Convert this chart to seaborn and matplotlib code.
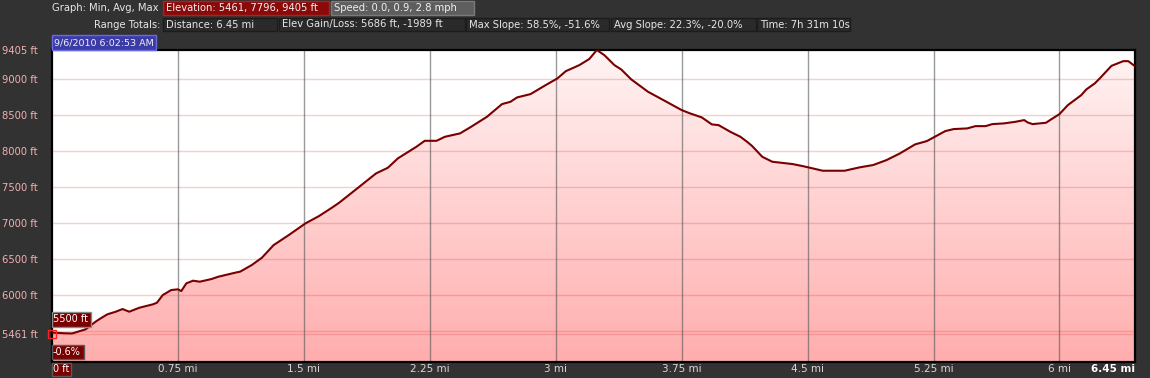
import numpy as np
import pandas as pd
import matplotlib
matplotlib.use("Agg")
import matplotlib.pyplot as plt
import seaborn as sns
from matplotlib.patches import Rectangle
from matplotlib.colors import LinearSegmentedColormap

# ---------------- data ----------------
distance_mi = [0.00, 0.08, 0.12, 0.20, 0.26, 0.29, 0.33, 0.38, 0.42, 0.46, 0.52, 0.60, 0.625,
               0.66, 0.71, 0.75, 0.77, 0.80, 0.84, 0.88, 0.95, 0.99, 1.10, 1.12, 1.19, 1.25,
               1.32, 1.41, 1.51, 1.59, 1.67, 1.71, 1.83, 1.93, 2.00, 2.06, 2.17, 2.22, 2.29,
               2.34, 2.43, 2.49, 2.59, 2.68, 2.73, 2.77, 2.85, 2.94, 3.01, 3.06, 3.14, 3.20,
               3.245, 3.29, 3.35, 3.39, 3.45, 3.55, 3.66, 3.75, 3.80, 3.87, 3.93, 3.97, 4.04,
               4.10, 4.14, 4.17, 4.23, 4.29, 4.41, 4.47, 4.53, 4.59, 4.72, 4.81, 4.89, 4.97,
               5.05, 5.14, 5.21, 5.32, 5.37, 5.45, 5.50, 5.56, 5.60, 5.67, 5.74, 5.79, 5.81,
               5.84, 5.92, 5.95, 6.00, 6.05, 6.13, 6.16, 6.21, 6.24, 6.31, 6.38, 6.41, 6.45]
elevation_ft = [5478, 5468, 5466, 5523, 5630, 5676, 5732, 5768, 5805, 5768, 5823, 5870, 5893,
                6000, 6069, 6079, 6055, 6162, 6199, 6185, 6222, 6254, 6315, 6324, 6417, 6518,
                6694, 6833, 6996, 7097, 7218, 7282, 7504, 7690, 7768, 7899, 8060, 8143, 8143,
                8199, 8246, 8329, 8476, 8653, 8685, 8746, 8792, 8917, 9010, 9111, 9194, 9280,
                9405, 9333, 9194, 9135, 8996, 8824, 8685, 8570, 8524, 8468, 8371, 8361, 8268,
                8199, 8129, 8070, 7921, 7852, 7820, 7792, 7760, 7727, 7727, 7774, 7806, 7875,
                7968, 8093, 8139, 8278, 8306, 8315, 8347, 8347, 8375, 8385, 8408, 8431, 8399,
                8375, 8394, 8440, 8514, 8639, 8778, 8857, 8940, 9010, 9185, 9250, 9250, 9180]

x_ticks = [0.75, 1.5, 2.25, 3.0, 3.75, 4.5, 5.25, 6.0]
x_tick_labels = ["0.75 mi", "1.5 mi", "2.25 mi", "3 mi", "3.75 mi", "4.5 mi", "5.25 mi", "6 mi"]
y_grid = [5500, 6000, 6500, 7000, 7500, 8000, 8500, 9000]
y_ticks = [5461, 6000, 6500, 7000, 7500, 8000, 8500, 9000, 9405]
y_tick_labels = ["5461 ft", "6000 ft", "6500 ft", "7000 ft", "7500 ft", "8000 ft", "8500 ft",
                 "9000 ft", "9405 ft"]
x_max = 6.45
y_min, y_max = 5069, 9405

header_row1 = [("Elevation: 5461, 7796, 9405 ft", 163, 329, "#8a0a0a", "#b02020"),
               ("Speed: 0.0, 0.9, 2.8 mph", 331, 474, "#5e5e5e", "#7a7a7a")]
header_row2 = [("Distance: 6.45 mi", 163, 277),
               ("Elev Gain/Loss: 5686 ft, -1989 ft", 279, 465),
               ("Max Slope: 58.5%, -51.6%", 466, 609),
               ("Avg Slope: 22.3%, -20.0%", 611, 756),
               ("Time: 7h 31m 10s", 757, 850)]

# ---------------- figure ----------------
sns.set_theme(style="white")
plt.rcParams["font.family"] = ["DejaVu Sans"]
W, H = 1150, 378
BG = "#323232"
fig = plt.figure(figsize=(W / 100, H / 100), dpi=100, facecolor=BG)


def fx(x):
    return x / W


def fy(y):
    return 1 - y / H


L, R, T, B = 52, 1135, 50, 362
ax = fig.add_axes([fx(L), fy(B), (R - L) / W, (B - T) / H])
ax.set_facecolor("white")

df = pd.DataFrame({"distance": distance_mi, "elevation": elevation_ft})

# gradient fill beneath profile
poly = ax.fill_between(df["distance"], df["elevation"], y_min, facecolor="none", edgecolor="none")
cmap = LinearSegmentedColormap.from_list("pinkgrad", ["#ffadad", "#fff4f4"])
grad = np.linspace(0, 1, 256).reshape(-1, 1)
im = ax.imshow(grad, extent=[0, x_max, y_min, y_max], origin="lower", aspect="auto",
               cmap=cmap, zorder=1, interpolation="bilinear")
im.set_clip_path(poly.get_paths()[0], transform=ax.transData)

# grid lines
for g in y_grid + [5461]:
    ax.axhline(g, color=(0.92, 0.22, 0.22), alpha=0.25, lw=1, zorder=2)
for xt in x_ticks:
    ax.axvline(xt, color="#555555", alpha=0.6, lw=1, zorder=2)

sns.lineplot(data=df, x="distance", y="elevation", ax=ax, color="#7a0000", lw=1.5,
             zorder=4, estimator=None, sort=False)

ax.set_xlim(0, x_max)
ax.set_ylim(y_min, y_max)
ax.set_xlabel("")
ax.set_ylabel("")

ax.set_xticks(x_ticks)
ax.set_xticklabels(x_tick_labels, color="#d8d8d8", fontsize=7.5)
ax.set_yticks(y_ticks)
ax.set_yticklabels(y_tick_labels, color="#f2b0b0", fontsize=7.2, ha="left")
ax.tick_params(axis="y", length=0, pad=36)
ax.tick_params(axis="x", length=0, pad=1.5)
for sp in ax.spines.values():
    sp.set_color("black")
    sp.set_linewidth(1.6)
    sp.set_visible(True)

# cursor marker
ax.plot([0], [5461], marker="s", mfc="none", mec="#ff2020", ms=6, mew=1, clip_on=False, zorder=6)


def box(x0, y0, x1, y1, fc, ec, lw=1.0):
    fig.add_artist(Rectangle((fx(x0), fy(y1)), (x1 - x0) / W, (y1 - y0) / H,
                             transform=fig.transFigure, facecolor=fc, edgecolor=ec,
                             lw=lw, zorder=10))


def label(x, y, s, color="#e6e6e6", ha="left", weight="normal", size=7.2):
    fig.text(fx(x), fy(y), s, color=color, ha=ha, va="center", fontsize=size,
             fontweight=weight, zorder=11)


# header
label(159, 8, "Graph: Min, Avg, Max", ha="right")
label(160, 24.5, "Range Totals:", ha="right")
for text, x0, x1, fc, ec in header_row1:
    box(x0, 1, x1, 15, fc, ec)
    label(x0 + 3, 8, text, color="#f0f0f0")
for text, x0, x1 in header_row2:
    box(x0, 18, x1, 31, "#2a2a2a", "#1c1c1c")
    label(x0 + 3, 24.5, text)

# date box
box(52, 35, 156, 50, "#3c3ca8", "#6a6ae0")
label(54, 42.5, "9/6/2010 6:02:53 AM", color="#f0f0f0", size=6.8)

# cursor value boxes
box(52, 312, 91, 327, "#7a0000", "#8a8a8a")
label(53, 319.5, "5500 ft", color="white", size=7)
box(52, 345, 84, 359, "#7a0000", "#5a5a5a")
label(53, 352, "-0.6%", color="white", size=7)
box(52, 363, 71, 376, "#7a0000", "#5a5a5a")
label(53, 369.5, "0 ft", color="white", size=7)
label(1135, 369.5, "6.45 mi", color="white", ha="right", weight="bold", size=7.5)

fig.savefig("out.png", dpi=100, facecolor=BG)
